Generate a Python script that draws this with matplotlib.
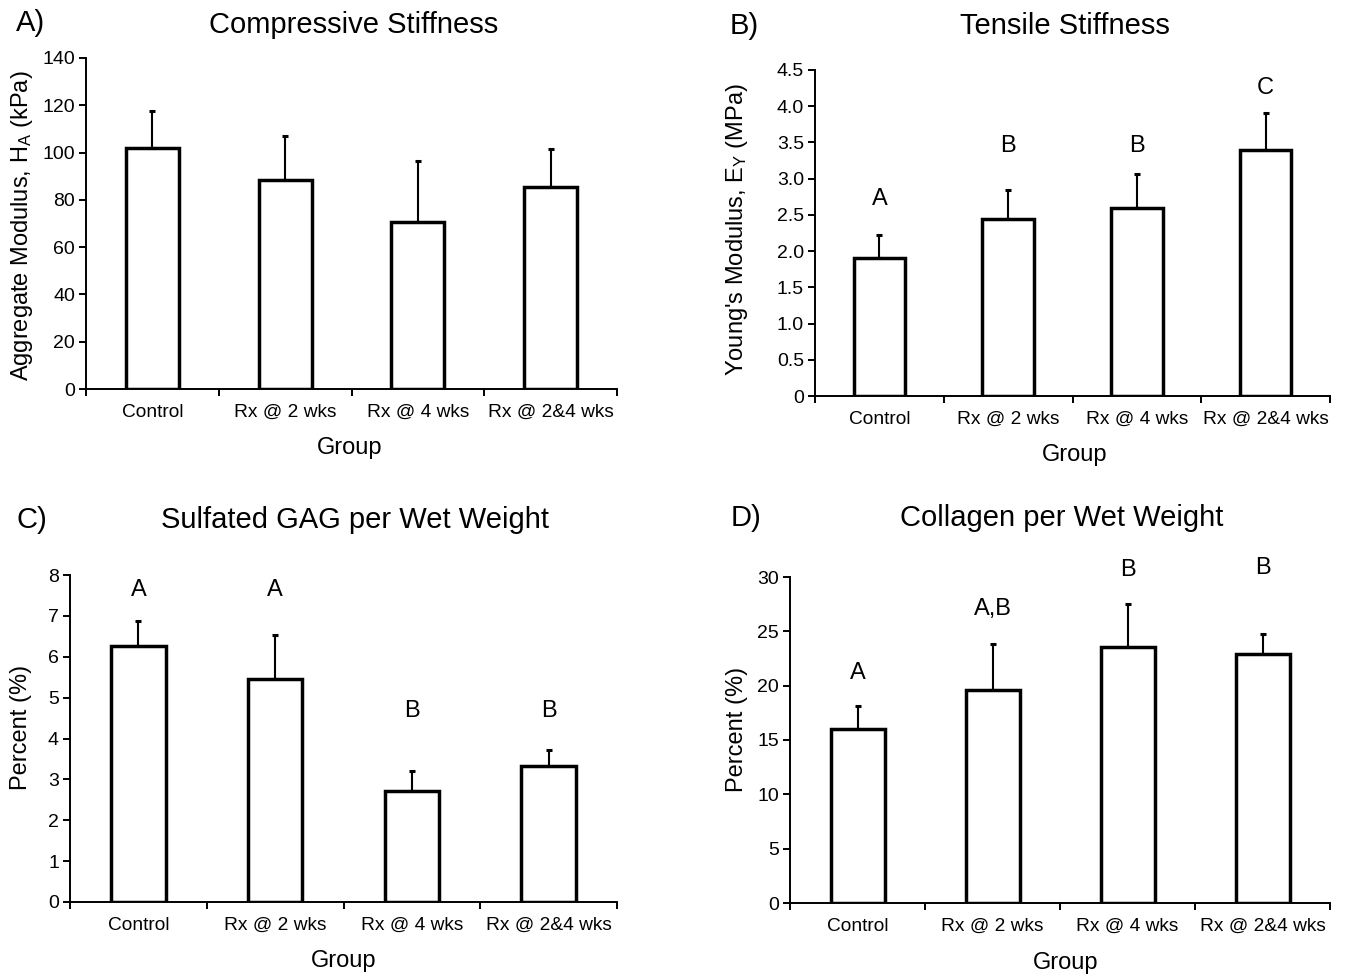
import matplotlib
matplotlib.use("Agg")
import matplotlib.pyplot as plt
import numpy as np

plt.rcParams['font.family'] = ['Liberation Sans', 'DejaVu Sans']
plt.rcParams['mathtext.default'] = 'regular'

groups = ["Control", "Rx @ 2 wks", "Rx @ 4 wks", "Rx @ 2&4 wks"]

# A) compressive stiffness (kPa)
agg_mean = [102, 88.5, 70.8, 85.5]
agg_sd = [15.6, 18.6, 25.6, 16.0]

# B) tensile stiffness (MPa)
young_mean = [1.91, 2.44, 2.60, 3.40]
young_sd = [0.31, 0.41, 0.47, 0.51]
young_letters = ["A", "B", "B", "C"]
young_letter_y = [2.72, 3.45, 3.45, 4.25]

# C) sulfated GAG (% wet weight)
gag_mean = [6.27, 5.46, 2.71, 3.33]
gag_sd = [0.60, 1.06, 0.50, 0.38]
gag_letters = ["A", "A", "B", "B"]
gag_letter_y = [7.63, 7.63, 4.68, 4.68]

# D) collagen (% wet weight)
col_mean = [16.0, 19.6, 23.6, 22.9]
col_sd = [2.1, 4.2, 3.9, 1.9]
col_letters = ["A", "A,B", "B", "B"]
col_letter_y = [21.2, 27.1, 30.6, 30.8]

W, H = 1345, 976
fig = plt.figure(figsize=(W / 100, H / 100), dpi=100)


def px_axes(left, right, bottom, top):
    return fig.add_axes([left / W, 1 - bottom / H, (right - left) / W, (bottom - top) / H])


def ftext(x, y, s, size, rot=0):
    fig.text(x / W, 1 - y / H, s, fontsize=size, ha='center', va='center', rotation=rot)


def bar_panel(ax, means, sds, ymax, ystep, yticklabels, letters=None, letter_y=None):
    x = np.arange(len(groups))
    ax.errorbar(x, means, yerr=[np.zeros(len(sds)), sds], fmt='none', ecolor='black',
                elinewidth=1.5, capsize=2.3, capthick=2.2, zorder=1)
    ax.bar(x, means, width=0.4, color='white', edgecolor='black', linewidth=2.5, zorder=2)
    ax.set_xlim(-0.5, len(groups) - 0.5)
    ax.set_ylim(0, ymax)
    ax.set_yticks(np.arange(0, ymax + ystep / 2, ystep))
    ax.set_yticklabels(yticklabels)
    ax.set_xticks(np.arange(len(groups) + 1) - 0.5)
    ax.set_xticklabels([])
    ax.set_xticks(x, minor=True)
    ax.set_xticklabels(groups, minor=True)
    ax.tick_params(axis='x', which='major', direction='out', length=5, width=1.4)
    ax.tick_params(axis='x', which='minor', length=0, pad=11, labelsize=13.8)
    ax.tick_params(axis='y', direction='out', length=5, width=1.4, pad=3, labelsize=14)
    for side in ['top', 'right']:
        ax.spines[side].set_visible(False)
    for side in ['left', 'bottom']:
        ax.spines[side].set_linewidth(1.4)
    if letters is not None:
        for xi, lab, ly in zip(x, letters, letter_y):
            ax.text(xi, ly, lab, ha='center', va='center', fontsize=17, clip_on=False)


# A
axA = px_axes(86, 617, 389, 58)
bar_panel(axA, agg_mean, agg_sd, 140, 20, [str(v) for v in range(0, 141, 20)])
ftext(354, 25, "Compressive Stiffness", 21)
ftext(31, 23, "A)", 21)
ftext(350, 448, "Group", 17)
ftext(22, 226, "Aggregate Modulus, H$_A$ (kPa)", 17, rot=90)

# B
axB = px_axes(815, 1330, 396, 70)
bar_panel(axB, young_mean, young_sd, 4.5, 0.5,
          ["0", "0.5", "1.0", "1.5", "2.0", "2.5", "3.0", "3.5", "4.0", "4.5"],
          young_letters, young_letter_y)
ftext(1065, 26, "Tensile Stiffness", 21)
ftext(744, 26, "B)", 21)
ftext(1075, 455, "Group", 17)
ftext(737, 230, "Young's Modulus, E$_Y$ (MPa)", 17, rot=90)

# C
axC = px_axes(70, 617, 902, 575)
bar_panel(axC, gag_mean, gag_sd, 8, 1, [str(v) for v in range(0, 9)],
          gag_letters, gag_letter_y)
ftext(355, 520, "Sulfated GAG per Wet Weight", 21)
ftext(32, 520, "C)", 21)
ftext(344, 961, "Group", 17)
ftext(21, 727, "Percent (%)", 17, rot=90)

# D
axD = px_axes(790, 1330, 903, 577)
bar_panel(axD, col_mean, col_sd, 30, 5, [str(v) for v in range(0, 31, 5)],
          col_letters, col_letter_y)
ftext(1062, 518, "Collagen per Wet Weight", 21)
ftext(746, 518, "D)", 21)
ftext(1066, 963, "Group", 17)
ftext(737, 729, "Percent (%)", 17, rot=90)

fig.savefig("out.png", dpi=100, facecolor='white')
